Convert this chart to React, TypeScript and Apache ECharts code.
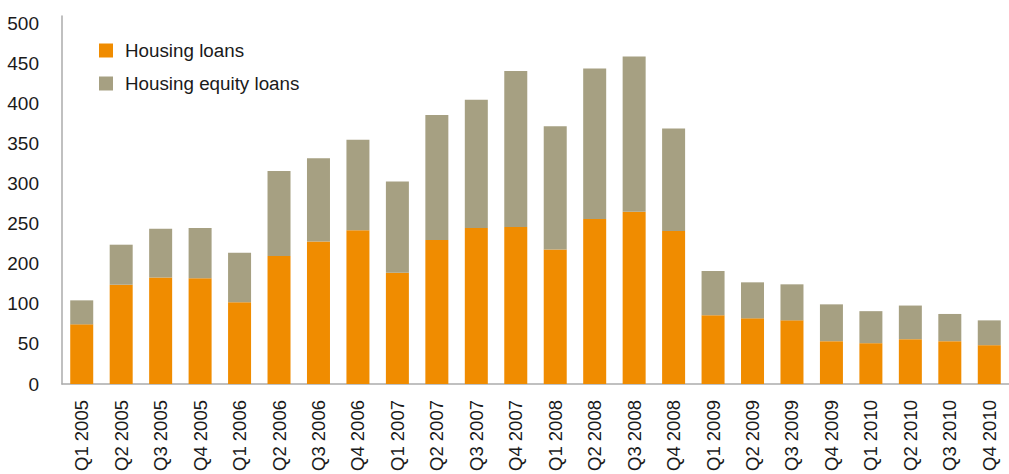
import React, { useEffect, useRef } from "react";
import * as echarts from "echarts";

const categories = [
  "Q1 2005", "Q2 2005", "Q3 2005", "Q4 2005",
  "Q1 2006", "Q2 2006", "Q3 2006", "Q4 2006",
  "Q1 2007", "Q2 2007", "Q3 2007", "Q4 2007",
  "Q1 2008", "Q2 2008", "Q3 2008", "Q4 2008",
  "Q1 2009", "Q2 2009", "Q3 2009", "Q4 2009",
  "Q1 2010", "Q2 2010", "Q3 2010", "Q4 2010",
];

// Values in plotted axis units (tick positions 0,50,...,450 carry the labels below)
const housingLoans = [
  74.5, 124, 133, 132, 102, 160, 178, 192,
  139, 180, 195, 196, 168, 206, 215, 191,
  86, 82, 79.5, 53.5, 51, 56, 53.5, 48.5,
];
const housingEquityLoans = [
  30, 50, 61, 63, 62, 106, 104, 113,
  114, 156, 160, 195, 154, 188, 194, 128,
  55, 45, 45, 46, 40, 42, 34, 31,
];

// Tick labels as printed on the reference axis (from bottom to top)
const yTickLabels = ["0", "50", "100", "200", "250", "300", "350", "400", "450", "500"];

const seriesNames = ["Housing loans", "Housing equity loans"];
const colors = ["#F08C00", "#A6A082"];

export default function App() {
  const ref = useRef<HTMLDivElement>(null);
  useEffect(() => {
    if (!ref.current) return;
    const chart = echarts.init(ref.current, null, { renderer: "svg" });
    const font = "'Liberation Sans', Arial, sans-serif";
    chart.setOption({
      animation: false,
      color: colors,
      legend: {
        orient: "vertical",
        left: 94,
        top: 36,
        itemWidth: 14,
        itemHeight: 14,
        itemGap: 14,
        icon: "rect",
        data: seriesNames,
        textStyle: {
          fontFamily: font,
          fontSize: 18.8,
          color: "#1a1a1a",
          padding: [0, 0, 0, 7],
        },
      },
      grid: { left: 62, top: 16, width: 958, height: 370 },
      xAxis: {
        type: "category",
        data: categories,
        axisLine: { lineStyle: { color: "#ababab", width: 1.5 } },
        axisTick: { show: false },
        axisLabel: {
          rotate: 90,
          margin: 16,
          fontFamily: font,
          fontSize: 18.5,
          color: "#1a1a1a",
          interval: 0,
        },
      },
      yAxis: {
        type: "value",
        min: 0,
        max: 459.6,
        interval: 50,
        splitLine: { show: false },
        axisLine: { show: true, lineStyle: { color: "#ababab", width: 1.5 } },
        axisTick: { show: false },
        axisLabel: {
          margin: 23,
          fontFamily: font,
          fontSize: 19,
          color: "#1a1a1a",
          padding: [0, 0, 6, 0],
          formatter: (v: number) => {
            const i = Math.round(v / 50);
            if (Math.abs(v - i * 50) > 0.01) return "";
            return yTickLabels[i] ?? "";
          },
        },
      },
      series: [
        {
          name: seriesNames[0],
          type: "bar",
          stack: "total",
          barWidth: 23,
          data: housingLoans,
        },
        {
          name: seriesNames[1],
          type: "bar",
          stack: "total",
          barWidth: 23,
          data: housingEquityLoans,
        },
      ],
    });
    return () => chart.dispose();
  }, []);
  return (
    <div
      ref={ref}
      style={{ position: "absolute", left: 0, top: 0, width: 1009, height: 474 }}
    />
  );
}
